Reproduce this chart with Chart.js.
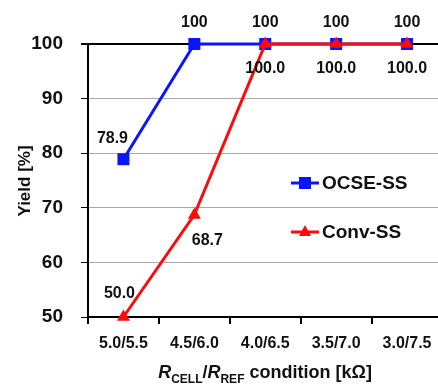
<!DOCTYPE html>
<html>
<head>
<meta charset="utf-8">
<script src="https://cdn.jsdelivr.net/npm/chart.js@4/dist/chart.umd.min.js"></script>
<style>
  html, body { margin: 0; padding: 0; background: #fff; overflow: hidden; }
  #wrap { width: 451px; height: 385px; }
</style>
</head>
<body>
<div id="wrap"><canvas id="yieldChart" width="451" height="385"></canvas></div>
<script>
const conditions = ['5.0/5.5', '4.5/6.0', '4.0/6.5', '3.5/7.0', '3.0/7.5'];
const ocseYield = [78.9, 100, 100, 100, 100];
const convYield = [50.0, 68.7, 100.0, 100.0, 100.0];
const ocseLabels = ['78.9', '100', '100', '100', '100'];
const convLabels = ['50.0', '68.7', '100.0', '100.0', '100.0'];
const yTicks = [50, 60, 70, 80, 90, 100];

const FONT = '"Liberation Sans", Arial, sans-serif';
const BLUE = '#0a14ff';
const RED = '#ff0a0a';

// value labels, legend and axis titles
const decorations = {
  id: 'decorations',
  afterDatasetsDraw(chart) {
    const { ctx } = chart;
    const x = chart.scales.x;
    const y = chart.scales.y;
    ctx.save();
    ctx.fillStyle = '#111';
    ctx.font = `bold 16px ${FONT}`;
    ctx.textBaseline = 'middle';
    ctx.textAlign = 'center';

    ocseYield.forEach((v, i) => {
      const px = x.getPixelForValue(i);
      const py = y.getPixelForValue(v);
      if (i === 0) {
        ctx.fillText(ocseLabels[i], px - 11, py - 21);
      } else {
        ctx.fillText(ocseLabels[i], px, py - 21);
      }
    });

    convYield.forEach((v, i) => {
      const px = x.getPixelForValue(i);
      const py = y.getPixelForValue(v);
      if (i === 0) {
        ctx.fillText(convLabels[i], px - 4, py - 23);
      } else if (i === 1) {
        ctx.fillText(convLabels[i], px + 13, py + 26);
      } else {
        ctx.fillText(convLabels[i], px, py + 25);
      }
    });

    // legend
    const items = [
      { text: 'OCSE-SS', color: BLUE, style: 'rect', top: 183 },
      { text: 'Conv-SS', color: RED, style: 'triangle', top: 232 }
    ];
    items.forEach((it) => {
      ctx.strokeStyle = it.color;
      ctx.lineWidth = 3;
      ctx.beginPath();
      ctx.moveTo(291, it.top);
      ctx.lineTo(319, it.top);
      ctx.stroke();
      ctx.fillStyle = it.color;
      if (it.style === 'rect') {
        ctx.fillRect(299, it.top - 6, 12, 12);
      } else {
        ctx.beginPath();
        ctx.moveTo(305, it.top - 7);
        ctx.lineTo(311, it.top + 4);
        ctx.lineTo(299, it.top + 4);
        ctx.closePath();
        ctx.fill();
      }
      ctx.fillStyle = '#111';
      ctx.font = `bold 19px ${FONT}`;
      ctx.textAlign = 'left';
      ctx.fillText(it.text, 322, it.top + 1);
    });
    ctx.restore();
  },
  afterDraw(chart) {
    const { ctx } = chart;
    ctx.save();
    ctx.fillStyle = '#111';
    ctx.textBaseline = 'alphabetic';

    // y title
    ctx.save();
    ctx.translate(30, 181);
    ctx.rotate(-Math.PI / 2);
    ctx.font = `bold 17px ${FONT}`;
    ctx.textAlign = 'center';
    ctx.fillText('Yield [%]', 0, 0);
    ctx.restore();

    // x title with subscripts
    const parts = [
      { t: 'R', f: `italic bold 18px ${FONT}`, dy: 0 },
      { t: 'CELL', f: `bold 12px ${FONT}`, dy: 5 },
      { t: '/', f: `bold 18px ${FONT}`, dy: 0 },
      { t: 'R', f: `italic bold 18px ${FONT}`, dy: 0 },
      { t: 'REF', f: `bold 12px ${FONT}`, dy: 5 },
      { t: ' condition [kΩ]', f: `bold 18px ${FONT}`, dy: 0 }
    ];
    let total = 0;
    parts.forEach((p) => { ctx.font = p.f; total += ctx.measureText(p.t).width; });
    let cx = 265 - total / 2;
    const base = 378;
    ctx.textAlign = 'left';
    parts.forEach((p) => {
      ctx.font = p.f;
      ctx.fillText(p.t, cx, base + p.dy);
      cx += ctx.measureText(p.t).width;
    });
    ctx.restore();
  }
};

new Chart(document.getElementById('yieldChart'), {
  type: 'line',
  data: {
    labels: conditions,
    datasets: [
      {
        label: 'OCSE-SS',
        data: ocseYield,
        borderColor: BLUE,
        backgroundColor: BLUE,
        borderWidth: 3,
        pointStyle: 'rect',
        pointRadius: 8.5,
        pointBorderWidth: 0,
        tension: 0,
        clip: false,
        order: 1
      },
      {
        label: 'Conv-SS',
        data: convYield,
        borderColor: RED,
        backgroundColor: RED,
        borderWidth: 3,
        pointStyle: 'triangle',
        pointRadius: 7.5,
        pointBorderWidth: 0,
        tension: 0,
        clip: false,
        order: 0
      }
    ]
  },
  options: {
    responsive: false,
    animation: false,
    devicePixelRatio: 1,
    layout: { padding: { top: 44, right: 0, left: 0, bottom: 0 } },
    plugins: {
      legend: { display: false },
      tooltip: { enabled: false }
    },
    scales: {
      x: {
        offset: true,
        afterFit: (scale) => { scale.height = 68; },
        grid: {
          offset: true,
          drawOnChartArea: false,
          drawTicks: true,
          tickLength: 7,
          tickColor: '#000',
          lineWidth: 2
        },
        border: { color: '#000', width: 2 },
        ticks: {
          color: '#111',
          padding: 10,
          maxRotation: 0,
          font: { family: FONT, size: 16, weight: 'bold' }
        }
      },
      y: {
        min: 50,
        max: 100,
        afterFit: (scale) => { scale.width = 88; },
        afterBuildTicks: (scale) => { scale.ticks = yTicks.map((v) => ({ value: v })); },
        grid: {
          color: (c) => (c.tick && c.tick.value === 100 ? '#000' : '#a8a8a8'),
          lineWidth: (c) => (c.tick && c.tick.value === 100 ? 2 : 1),
          tickLength: 7,
          tickColor: '#000'
        },
        border: { color: '#000', width: 2 },
        ticks: {
          color: '#111',
          padding: 18,
          font: { family: FONT, size: 19, weight: 'bold' }
        }
      }
    }
  },
  plugins: [decorations]
});
</script>
</body>
</html>
